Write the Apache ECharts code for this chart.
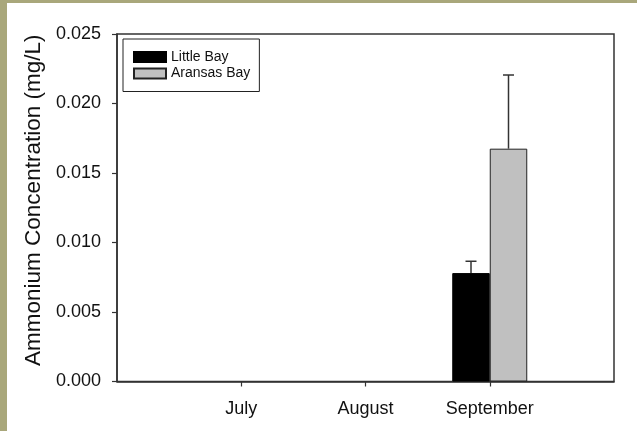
<!DOCTYPE html>
<html>
<head>
<meta charset="utf-8">
<script src="https://cdn.jsdelivr.net/npm/echarts@6/dist/echarts.min.js"></script>
<style>
html,body{margin:0;padding:0;background:#fff;}
#chart{width:637px;height:431px;}
</style>
</head>
<body>
<div id="chart"></div>
<script>
// ---- data ----
const months = ['July', 'August', 'September'];
const littleBay = [null, null, 0.0078];
const littleBayErr = [null, null, 0.00085];
const aransasBay = [null, null, 0.01675];
const aransasBayErr = [null, null, 0.0053];
const yTicks = [0, 0.005, 0.010, 0.015, 0.020, 0.025];

// padded category axis (empty slots at both ends)
const cats = [''].concat(months, ['']);
const pad = arr => [null].concat(arr, [null]);

const BAR_W = 37.5;
const FONT = '"Liberation Sans", Arial, sans-serif';

function errData(vals, errs) {
  const out = [];
  vals.forEach((v, i) => { if (v != null) out.push([i + 1, v, errs[i]]); });
  return out;
}
function errSeries(vals, errs, dir) {
  return {
    type: 'custom',
    silent: true,
    z: 5,
    data: errData(vals, errs),
    encode: { x: 0, y: 1 },
    renderItem: function (params, api) {
      const x = api.value(0), v = api.value(1), e = api.value(2);
      const base = api.coord([x, v]);
      const top = api.coord([x, v + e]);
      const cx = base[0] + dir * BAR_W / 2;
      const cap = 5.5;
      const st = { stroke: '#333', lineWidth: 1.5 };
      return {
        type: 'group',
        children: [
          { type: 'line', shape: { x1: cx, y1: base[1], x2: cx, y2: top[1] }, style: st },
          { type: 'line', shape: { x1: cx - cap, y1: top[1], x2: cx + cap, y2: top[1] }, style: st }
        ]
      };
    }
  };
}

const chart = echarts.init(document.getElementById('chart'));
chart.setOption({
  animation: false,
  backgroundColor: '#ffffff',
  graphic: [
    { type: 'rect', left: 0, top: 0, shape: { width: 637, height: 3 }, style: { fill: '#a9a77b' }, z: 100 },
    { type: 'rect', left: 0, top: 0, shape: { width: 7, height: 431 }, style: { fill: '#a9a77b' }, z: 100 }
  ],
  grid: {
    left: 117, right: 23, top: 34, bottom: 49.5,
    show: true, borderColor: '#333', borderWidth: 1.5, backgroundColor: 'transparent'
  },
  legend: {
    orient: 'vertical',
    left: 123, top: 39,
    padding: [11, 9, 11, 10],
    itemGap: 2.5,
    itemWidth: 32, itemHeight: 10,
    icon: 'rect',
    borderColor: '#222', borderWidth: 1,
    backgroundColor: '#fff',
    textStyle: { fontFamily: FONT, fontSize: 14, color: '#111' },
    data: ['Little Bay', 'Aransas Bay']
  },
  xAxis: {
    type: 'category',
    data: cats,
    boundaryGap: false,
    axisLine: { lineStyle: { color: '#333', width: 1.5 } },
    axisTick: {
      length: 5,
      interval: function (i, v) { return v !== ''; },
      lineStyle: { color: '#333', width: 1.2 }
    },
    axisLabel: { interval: 0, margin: 19, fontFamily: FONT, fontSize: 18, color: '#111' },
    splitLine: { show: false }
  },
  yAxis: {
    type: 'value',
    min: 0, max: 0.025, interval: 0.005,
    name: 'Ammonium Concentration (mg/L)',
    nameLocation: 'middle',
    nameGap: 72,
    nameTextStyle: { fontFamily: FONT, fontSize: 22.5, color: '#111', padding: [0, 0, 0, 15] },
    axisLine: { show: true, lineStyle: { color: '#333', width: 1.5 } },
    axisTick: { show: true, length: 5, lineStyle: { color: '#333', width: 1.2 } },
    axisLabel: {
      margin: 16, fontFamily: FONT, fontSize: 18, color: '#111',
      formatter: function (v) {
        const t = yTicks.find(x => Math.abs(x - v) < 1e-9);
        return (t != null ? t : v).toFixed(3);
      }
    },
    splitLine: { show: false }
  },
  series: [
    {
      name: 'Little Bay', type: 'bar', data: pad(littleBay),
      barWidth: BAR_W, barGap: '0%',
      itemStyle: { color: '#000000', borderColor: '#000', borderWidth: 1 }
    },
    {
      name: 'Aransas Bay', type: 'bar', data: pad(aransasBay),
      barWidth: BAR_W, barGap: '0%',
      itemStyle: { color: '#c0c0c0', borderColor: '#222', borderWidth: 1 }
    },
    errSeries(littleBay, littleBayErr, -1),
    errSeries(aransasBay, aransasBayErr, 1)
  ]
});
</script>
</body>
</html>
